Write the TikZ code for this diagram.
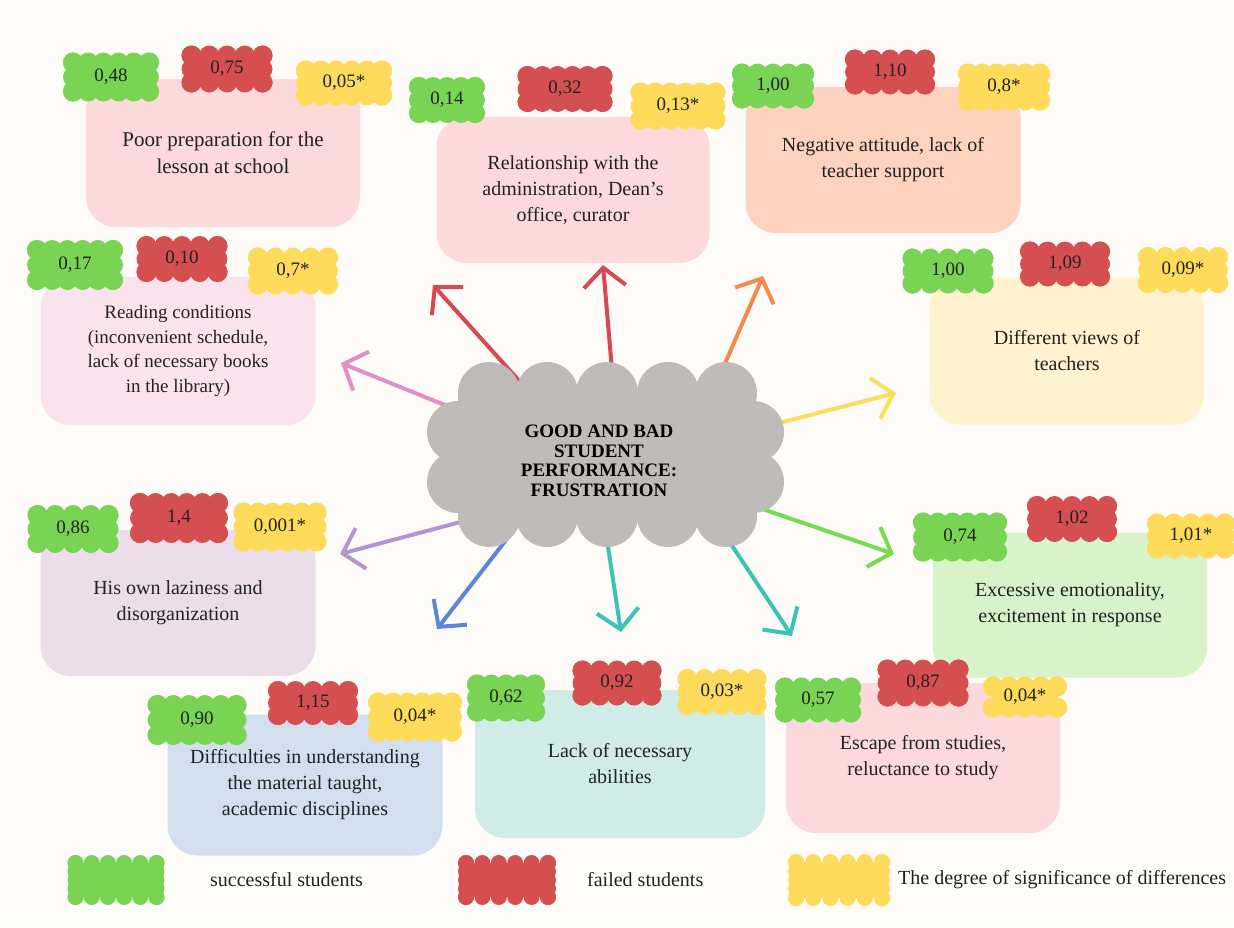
\documentclass[tikz,border=0pt]{standalone}
\usepackage{fontspec}
\setmainfont{Liberation Serif}
\usetikzlibrary{arrows.meta}
\definecolor{bgc}{HTML}{FDFCF9}
\definecolor{txc}{HTML}{222222}
\definecolor{bgreen}{HTML}{78D452}
\definecolor{bred}{HTML}{D64F50}
\definecolor{byellow}{HTML}{FEDB5A}
\definecolor{cloudc}{HTML}{BFBBB8}
\definecolor{pinkA}{HTML}{FCD9DA}
\definecolor{peach}{HTML}{FDD2BF}
\definecolor{pinkL}{HTML}{FBE3EE}
\definecolor{yelL}{HTML}{FEF2CF}
\definecolor{lav}{HTML}{EBDEEA}
\definecolor{grnL}{HTML}{D8F2C9}
\definecolor{bluL}{HTML}{D3DEEE}
\definecolor{tealL}{HTML}{CFECE6}
\definecolor{aRed}{HTML}{D8484F}
\definecolor{aOrange}{HTML}{F58A4B}
\definecolor{aPink}{HTML}{E48DC6}
\definecolor{aYellow}{HTML}{FBDE5B}
\definecolor{aPurple}{HTML}{B595D1}
\definecolor{aBlue}{HTML}{5E86D8}
\definecolor{aTeal}{HTML}{3CC3B3}
\definecolor{aGreen}{HTML}{78DA4E}
\tikzset{
  boxnode/.style={rounded corners=30pt, inner sep=0pt, align=center, text=txc,
    font=\fontsize{20}{26}\selectfont},
  badgetext/.style={inner sep=0pt, text=txc, font=\fontsize{19}{20}\selectfont},
  legtext/.style={inner sep=0pt, text=txc, font=\fontsize{20}{22}\selectfont},
  arr/.style={line width=4pt, line cap=round,
    -{Straight Barb[length=19pt,width=42pt,line width=4pt]}},
}
\def\brad{10}\def\bstx{16}\def\bsty{15}
\newcommand\badge[7]{%
  \pgfmathsetmacro\bhw{#4/2-\brad}%
  \pgfmathsetmacro\bhh{#5/2-\brad}%
  \pgfmathtruncatemacro\bnx{max(1,round(2*\bhw/\bstx))}%
  \pgfmathtruncatemacro\bny{max(1,round(2*\bhh/\bsty))}%
  \fill[#6] ({#2-\bhw},{#3-\bhh}) rectangle ({#2+\bhw},{#3+\bhh});
  \foreach \i in {0,...,\bnx}{\fill[#6] ({#2-\bhw+2*\bhw*\i/\bnx},{#3-\bhh}) circle[radius=\brad] ({#2-\bhw+2*\bhw*\i/\bnx},{#3+\bhh}) circle[radius=\brad];}
  \foreach \j in {0,...,\bny}{\fill[#6] ({#2-\bhw},{#3-\bhh+2*\bhh*\j/\bny}) circle[radius=\brad] ({#2+\bhw},{#3-\bhh+2*\bhh*\j/\bny}) circle[radius=\brad];}
  \node[badgetext] (#1) at (#2,#3) {#7};
}
\begin{document}
\begin{tikzpicture}[x=1pt,y=-1pt]
\fill[bgc] (0,0) rectangle (1234,927);
\useasboundingbox (0,0) rectangle (1234,927);

% boxes
\node[boxnode, fill=pinkA, minimum width=274pt, minimum height=148pt, font=\fontsize{21}{27}\selectfont] (b1) at (223,153) {Poor preparation for the\\lesson at school};
\node[boxnode, fill=pinkA, minimum width=273pt, minimum height=146pt] (b2) at (573,190) {Relationship with the\\administration, Dean's\\office, curator};
\node[boxnode, fill=peach, minimum width=275pt, minimum height=146pt] (b3) at (883,160) {Negative attitude, lack of\\teacher support};
\node[boxnode, fill=pinkL, minimum width=275pt, minimum height=148pt, font=\fontsize{19}{24.5}\selectfont] (b4) at (178,351) {Reading conditions\\(inconvenient schedule,\\lack of necessary books\\in the library)};
\node[boxnode, fill=yelL, minimum width=274pt, minimum height=147pt] (b5) at (1067,351) {Different views of\\teachers};
\node[boxnode, fill=lav, minimum width=275pt, minimum height=146pt] (b6) at (178,603) {His own laziness and\\disorganization};
\node[boxnode, fill=grnL, minimum width=274pt, minimum height=145pt] (b7) at (1070,605) {Excessive emotionality,\\excitement in response};
\node[boxnode, fill=bluL, minimum width=275pt, minimum height=141pt] (b8) at (305,785) {Difficulties in understanding\\the material taught,\\academic disciplines};
\node[boxnode, fill=tealL, minimum width=290pt, minimum height=148pt] (b9) at (620,764) {Lack of necessary\\abilities};
\node[boxnode, fill=pinkA, minimum width=274pt, minimum height=150pt] (b10) at (923,758) {Escape from studies,\\reluctance to study};

% badges
\badge{g1}{111}{77}{96}{49}{bgreen}{0,48}
\badge{r1}{227}{69}{91}{47}{bred}{0,75}
\badge{y1}{344}{83}{96}{45}{byellow}{0,05*}

\badge{g2}{447}{100}{76}{46}{bgreen}{0,14}
\badge{r2}{565}{89}{95}{46}{bred}{0,32}
\badge{y2}{678}{106}{95}{47}{byellow}{0,13*}

\badge{g3}{773}{86}{82}{45}{bgreen}{1,00}
\badge{r3}{890}{72}{90}{45}{bred}{1,10}
\badge{y3}{1004}{87}{92}{47}{byellow}{0,8*}

\badge{g4}{75}{265}{96}{50}{bgreen}{0,17}
\badge{r4}{182}{259}{91}{46}{bred}{0,10}
\badge{y4}{293}{271}{90}{47}{byellow}{0,7*}

\badge{g5}{948}{271}{91}{45}{bgreen}{1,00}
\badge{r5}{1065}{264}{90}{45}{bred}{1,09}
\badge{y5}{1183}{270}{90}{46}{byellow}{0,09*}

\badge{g6}{73}{529}{91}{48}{bgreen}{0,86}
\badge{r6}{179}{518}{98}{50}{bred}{1,4}
\badge{y6}{280}{527}{93}{49}{byellow}{0,001*}

\badge{g7}{960}{537}{94}{49}{bgreen}{0,74}
\badge{r7}{1072}{519}{90}{46}{bred}{1,02}
\badge{y7}{1191}{536}{88}{45}{byellow}{1,01*}

\badge{g8}{197}{720}{99}{50}{bgreen}{0,90}
\badge{r8}{313}{703}{90}{44}{bred}{1,15}
\badge{y8}{415}{717}{94}{49}{byellow}{0,04*}

\badge{g9}{506}{698}{78}{47}{bgreen}{0,62}
\badge{r9}{617}{683}{89}{45}{bred}{0,92}
\badge{y9}{722}{692}{89}{46}{byellow}{0,03*}

\badge{g10}{818}{700}{86}{45}{bgreen}{0,57}
\badge{r10}{923}{683}{91}{47}{bred}{0,87}
\badge{y10}{1025}{697}{84}{41}{byellow}{0,04*}

% arrows
\coordinate (s1) at (522,384); \coordinate (t1) at (433,285);
\coordinate (s2) at (612,370); \coordinate (t2) at (603,265);
\coordinate (s3) at (720,375); \coordinate (t3) at (763,276);
\coordinate (s4) at (452,408); \coordinate (t4) at (341,363);
\coordinate (s5) at (775,424); \coordinate (t5) at (896,393);
\coordinate (s6) at (468,520); \coordinate (t6) at (340,554);
\coordinate (s7) at (520,522); \coordinate (t7) at (437,629);
\coordinate (s8) at (607,540); \coordinate (t8) at (621,632);
\coordinate (s9) at (705,505); \coordinate (t9) at (792,636);
\coordinate (s10) at (745,503); \coordinate (t10) at (894,554);
\draw[arr, aRed] (s1) -- (t1);
\draw[arr, aRed] (s2) -- (t2);
\draw[arr, aOrange] (s3) -- (t3);
\draw[arr, aPink] (s4) -- (t4);
\draw[arr, aYellow] (s5) -- (t5);
\draw[arr, aPurple] (s6) -- (t6);
\draw[arr, aBlue] (s7) -- (t7);
\draw[arr, aTeal] (s8) -- (t8);
\draw[arr, aTeal] (s9) -- (t9);
\draw[arr, aGreen] (s10) -- (t10);

% central cloud
\fill[cloudc] (458,393) rectangle (753,516);
\foreach \cx in {489,547,607,668,726}{
  \fill[cloudc] (\cx,393) circle[radius=31];
  \fill[cloudc] (\cx,516) circle[radius=31];
}
\foreach \cy in {432,482}{
  \fill[cloudc] (458,\cy) circle[radius=31];
  \fill[cloudc] (753,\cy) circle[radius=31];
}
\node[inner sep=0pt, align=center, font=\bfseries\fontsize{19}{19.5}\selectfont, text=black] (center) at (599,461) {GOOD AND BAD\\STUDENT\\PERFORMANCE:\\FRUSTRATION};

% legend
\def\brad{8}\def\bstx{18}\def\bsty{9}
\badge{lg}{116}{880}{97}{50}{bgreen}{}
\badge{lr}{507}{880}{98}{50}{bred}{}
\badge{ly}{839}{880}{102}{52}{byellow}{}
\node[legtext, anchor=west] (lgt) at (210,880) {successful students};
\node[legtext, anchor=west] (lrt) at (587,880) {failed students};
\node[legtext, anchor=west] (lyt) at (898,880) {The degree of significance of differences};
\end{tikzpicture}
\end{document}
